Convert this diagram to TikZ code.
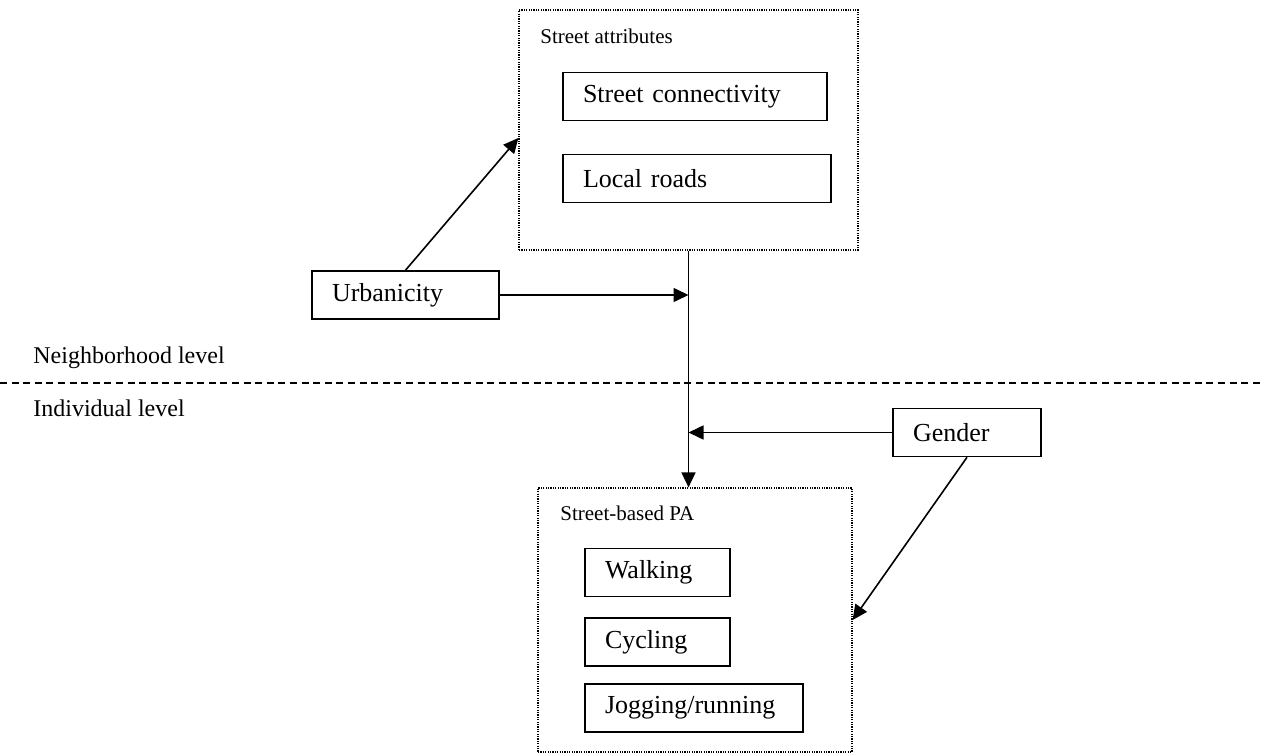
\documentclass[tikz,border=0pt]{standalone}
\usepackage{fontspec}
\setmainfont{Liberation Serif}
\usetikzlibrary{arrows.meta}

\begin{document}
\begin{tikzpicture}[x=0.5pt,y=-0.5pt,>={Triangle[length=7.5pt,width=7pt]},
  box/.style={draw,line width=0.8pt,inner xsep=10pt,inner ysep=0pt,align=left,
    font=\fontsize{13}{15}\selectfont,minimum height=24pt},
  group/.style={draw,line width=0.6pt,dash pattern=on 0.6pt off 0.6pt},
  title/.style={anchor=west,inner sep=0pt,font=\fontsize{10.5}{12}\selectfont},
  level/.style={anchor=west,inner sep=0pt,font=\fontsize{12}{14}\selectfont}]

\useasboundingbox (0,0) rectangle (1264,754);

% neighborhood level
\node[group,minimum width=169.5pt,minimum height=120pt] (attr) at (688.5,130) {};
\node[title] (attrtitle) at (540,36) {Street attributes};
\node[box,text width=112pt] (conn) at (695,96.5) {Street connectivity};
\node[box,text width=114pt] (roads) at (697,178.5) {Local roads};
\node[box,text width=73.5pt] (urb) at (405.5,295) {Urbanicity};

% levels
\node[level] (nbh) at (33,358) {Neighborhood level};
\node[level] (ind) at (33,408) {Individual level};
\coordinate (sepl) at (0,383);
\coordinate (sepr) at (1262,383);
\draw[line width=0.7pt,dash pattern=on 3.5pt off 2.3pt] (sepl) -- (sepr);

% individual level
\node[box,text width=54pt] (gen) at (967,432.5) {Gender};
\node[group,minimum width=157pt,minimum height=132pt] (pa) at (695,620) {};
\node[title] (patitle) at (560,513) {Street-based PA};
\node[box,text width=52.5pt] (walk) at (657.5,572.5) {Walking};
\node[box,text width=52.5pt] (cyc) at (657.5,642) {Cycling};
\node[box,text width=89pt] (jog) at (694,708) {Jogging/running};

% arrows
\draw[->,line width=0.8pt] (urb.north) -- ([yshift=-4pt]attr.west);
\draw[->,line width=0.8pt] (attr.south) -- (attr.south |- pa.north);
\draw[->,line width=0.8pt] (urb.east) -- (urb.east -| attr.south);
\draw[->,line width=0.8pt] (gen.west) -- (gen.west -| attr.south);
\draw[->,line width=0.8pt] (gen.south) -- (pa.east);

\end{tikzpicture}
\end{document}
